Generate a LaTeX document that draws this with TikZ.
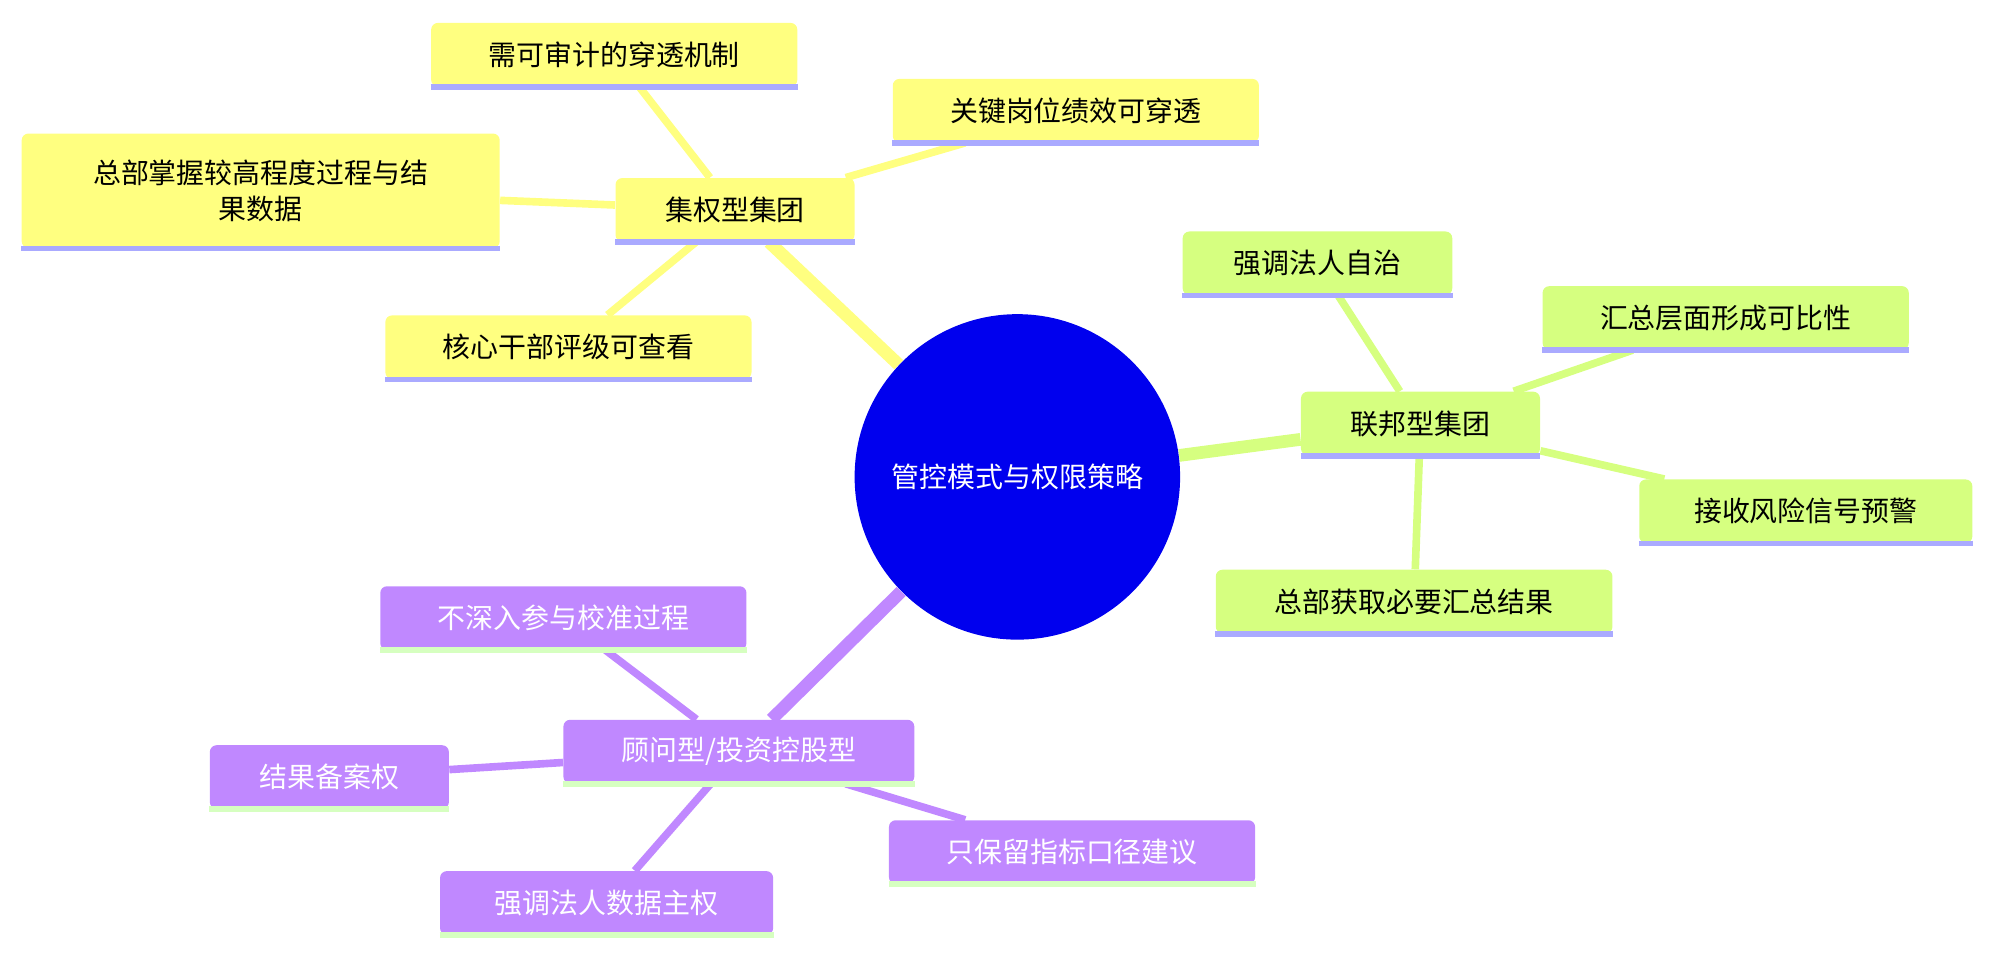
\documentclass[tikz,border=0pt]{standalone}
\usepackage{fontspec}
\setmainfont{Noto Sans CJK SC}
\usetikzlibrary{backgrounds}
\definecolor{hubblue}{HTML}{0000EE}
\definecolor{jiyel}{HTML}{FFFF80}
\definecolor{lbgreen}{HTML}{D6FF80}
\definecolor{gwpurp}{HTML}{C088FF}
\definecolor{linelav}{HTML}{AAAAFF}
\definecolor{linegrn}{HTML}{D6FFC0}

\begin{document}
\begin{tikzpicture}[x=0.02cm, y=-0.02cm,
	every node/.style={font=\fontsize{12.5}{16}\selectfont},
	topic/.style={rectangle, rounded corners=3pt, minimum height=1.0cm, inner sep=0pt, align=center},
	yel/.style={topic, fill=jiyel, text=black},
	grn/.style={topic, fill=lbgreen, text=black},
	pur/.style={topic, fill=gwpurp, text=white},
	mainedge/.style={line width=0.2cm},
	subedge/.style={line width=0.12cm}]

	\useasboundingbox (0,0) rectangle (1568,752);

	% centre
	\node[circle, fill=hubblue, text=white, minimum size=5.12cm, inner sep=0pt] (hub) at (800,375) {管控模式与权限策略};

	% branch: centralised
	\node[yel, minimum width=3.76cm] (jq) at (578,165) {集权型集团};
	\node[yel, minimum width=5.76cm] (jq1) at (483,43) {需可审计的穿透机制};
	\node[yel, minimum width=5.76cm] (jq2) at (846,87) {关键岗位绩效可穿透};
	\node[yel, minimum width=7.52cm, minimum height=1.8cm] (jq3) at (205,150) {总部掌握较高程度过程与结\\果数据};
	\node[yel, minimum width=5.76cm] (jq4) at (447,273) {核心干部评级可查看};

	% branch: federal
	\node[grn, minimum width=3.76cm] (lb) at (1117,333) {联邦型集团};
	\node[grn, minimum width=4.24cm] (lb1) at (1036,207) {强调法人自治};
	\node[grn, minimum width=5.76cm] (lb2) at (1357,250) {汇总层面形成可比性};
	\node[grn, minimum width=5.24cm] (lb3) at (1420,402) {接收风险信号预警};
	\node[grn, minimum width=6.24cm] (lb4) at (1112,473) {总部获取必要汇总结果};

	% branch: advisory
	\node[pur, minimum width=5.52cm] (gw) at (581,591) {顾问型/投资控股型};
	\node[pur, minimum width=5.76cm] (gw1) at (443,486) {不深入参与校准过程};
	\node[pur, minimum width=3.76cm] (gw2) at (259,611) {结果备案权};
	\node[pur, minimum width=5.76cm] (gw3) at (843,670) {只保留指标口径建议};
	\node[pur, minimum width=5.24cm] (gw4) at (477,710) {强调法人数据主权};

	% underlines
	\foreach \n in {jq,jq1,jq2,jq3,jq4,lb,lb1,lb2,lb3,lb4}
		\draw[linelav, line width=2.5pt] (\n.south west) -- (\n.south east);
	\foreach \n in {gw,gw1,gw2,gw3,gw4}
		\draw[linegrn, line width=2.5pt] (\n.south west) -- (\n.south east);

	% connectors
	\begin{scope}[on background layer]
		\draw[jiyel, mainedge] (hub) -- (jq);
		\draw[lbgreen, mainedge] (hub) -- (lb);
		\draw[gwpurp, mainedge] (hub) -- (gw);
		\foreach \n in {jq1,jq2,jq3,jq4}
			\draw[jiyel, subedge] (jq) -- (\n);
		\foreach \n in {lb1,lb2,lb3,lb4}
			\draw[lbgreen, subedge] (lb) -- (\n);
		\foreach \n in {gw1,gw2,gw3,gw4}
			\draw[gwpurp, subedge] (gw) -- (\n);
	\end{scope}
\end{tikzpicture}
\end{document}
